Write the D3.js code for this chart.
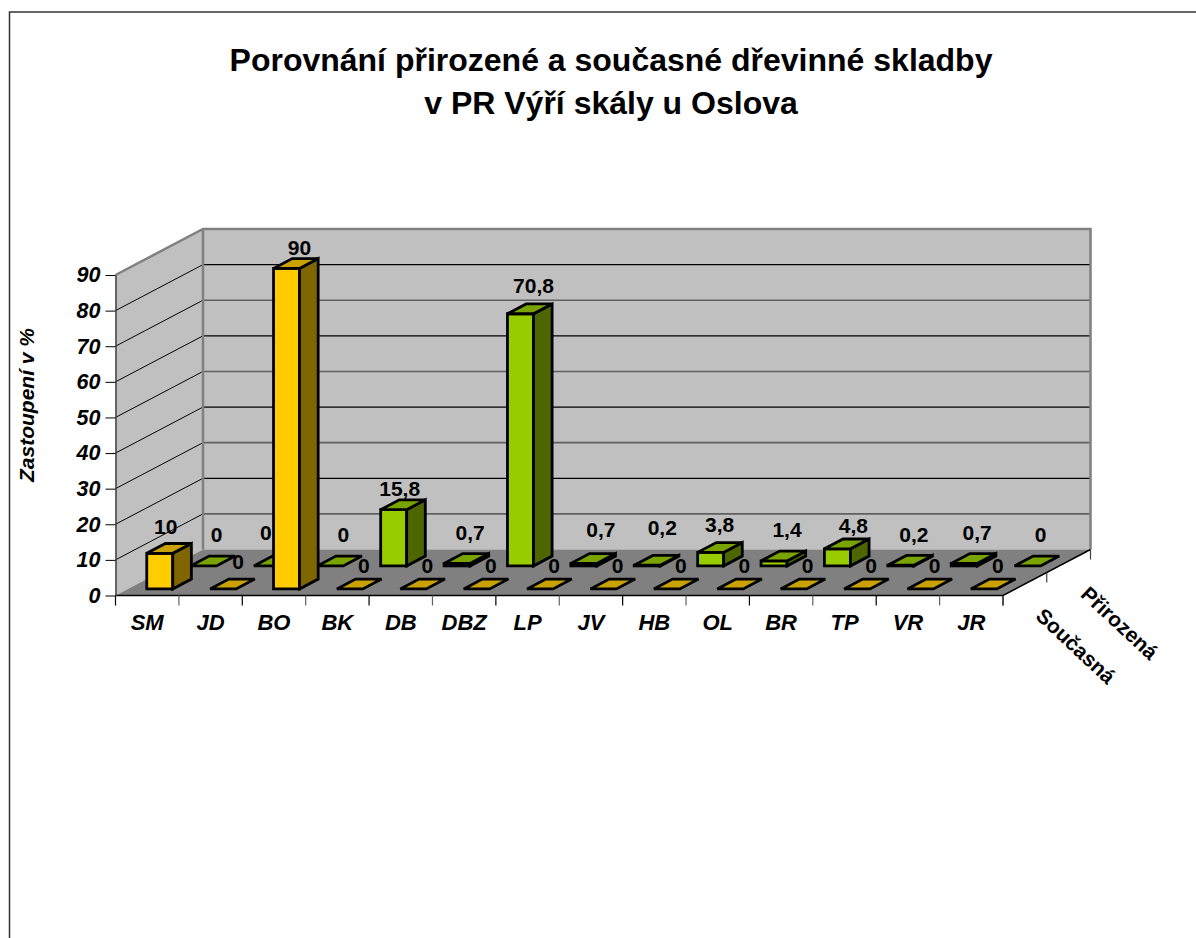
<!DOCTYPE html>
<html>
<head>
<meta charset="utf-8">
<script src="https://cdn.jsdelivr.net/npm/d3@7"></script>
<style>
    html, body { margin:0; padding:0; background:#fff; }
    svg { display:block; font-family:"Liberation Sans", Arial, sans-serif; }
</style>
</head>
<body>
<svg id="drawing_region"></svg>
<script>
const categories = ["SM","JD","BO","BK","DB","DBZ","LP","JV","HB","OL","BR","TP","VR","JR"];
const soucasna = [10,0,90,0,0,0,0,0,0,0,0,0,0,0];
const prirozena = [0,0,0,15.8,0.7,70.8,0.7,0.2,3.8,1.4,4.8,0.2,0.7,0];
const seriesNames = ["Současná","Přirozená"];
const yTicks = [0,10,20,30,40,50,60,70,80,90];
const titleLines = ["Porovnání přirozené a současné dřevinné skladby","v PR Výří skály u Oslova"];
const yTitle = "Zastoupení v %";

// label positions in the original are a bit irregular
const labelNudge = {
    "0-0": [-8,-4], "0-1": [1,-4], "0-2": [-1,2],
    "1-1": [-14,-2], "1-3": [-7,10], "1-5": [0,3], "1-6": [4,-3], "1-7": [2,-7], "1-8": [-4,3], "1-10": [3,8]
};

const colors = [
    {front:"#FFCC00", top:"#C9A100", side:"#806600"},
    {front:"#99CC00", top:"#7AA300", side:"#4D6600"}
];

const width = 1196, height = 938;
const left = 115.5, right = 1003, bottom = 595.5, top90 = 275;
const depthX = 87.5, depthY = 46;

const svg = d3.select("#drawing_region").attr("width", width).attr("height", height);
const line = d3.line();

const xscale = d3.scaleBand().domain(categories).range([left, right]).paddingInner(0.59).paddingOuter(0.295);
const yscale = d3.scaleLinear().domain([0,90]).range([bottom, top90]);
const zscale = d3.scaleBand().domain(seriesNames).range([0,1]).paddingInner(0.574).paddingOuter(0.287);

// category position, depth 0..1, value -> screen
const project = (x, z, v) => [x + z*depthX, yscale(v) - z*depthY];
const shape = pts => line(pts) + "Z";

// frame
svg.append("path")
    .attr("d", line([[9.5,height],[9.5,12],[width,12]]))
    .attr("fill","none").attr("stroke","#333").attr("stroke-width",1.5);

// title
svg.append("g").selectAll("text").data(titleLines).enter().append("text")
    .attr("x", 611).attr("y", (d,i) => 71 + i*43)
    .attr("text-anchor","middle").attr("font-weight","bold").attr("font-size","32px")
    .text(d => d);

// walls and floor
const wall = "#C0C0C0", edge = "#808080";
svg.append("path")
    .attr("d", shape([project(left,0,0), project(left,1,0), project(left,1,90), project(left,0,90)]))
    .attr("fill",wall);
svg.append("path")
    .attr("d", shape([project(left,1,0), project(right,1,0), project(right,1,90), project(left,1,90)]))
    .attr("fill",wall);
svg.append("path")
    .attr("d", shape([project(left,0,0), project(right,0,0), project(right,1,0), project(left,1,0)]))
    .attr("fill",edge);

// gridlines
const grid = yTicks.filter(d => d > 0 && d < 90);
svg.append("g").selectAll("path").data(grid).enter().append("path")
    .attr("d", d => line([project(left,0,d), project(left,1,d)]))
    .attr("stroke","#000").attr("stroke-width",1).attr("fill","none");
svg.append("g").selectAll("path").data(grid).enter().append("path")
    .attr("d", d => line([project(left,1,d), project(right,1,d)]))
    .attr("stroke", d => d % 20 === 0 ? "#000" : "#606060")
    .attr("stroke-width", d => d % 20 === 0 ? 1.2 : 1.6)
    .attr("fill","none");

// wall edges
svg.append("path")
    .attr("d", line([project(left,0,90), project(left,1,90), project(right,1,90), project(right,1,0)]))
    .attr("fill","none").attr("stroke",edge).attr("stroke-width",2.5);
svg.append("path")
    .attr("d", line([project(left,1,90), project(left,1,0)]))
    .attr("fill","none").attr("stroke",edge).attr("stroke-width",2.5);
svg.append("path")
    .attr("d", line([project(left,0,0), project(right,0,0), project(right,1,0)]))
    .attr("fill","none").attr("stroke","#000").attr("stroke-width",1.5);

// y axis
const yaxis = d3.axisLeft(yscale).tickValues(yTicks).tickSize(10).tickSizeOuter(0).tickFormat(d3.format("d"));
const yaxis_group = svg.append("g").attr("transform",`translate(${left},0)`).call(yaxis);
yaxis_group.select(".domain").attr("stroke","#404040").attr("stroke-width",1.5);
yaxis_group.selectAll("text").attr("font-family","inherit").attr("font-size","21.5px")
    .attr("font-weight","bold").attr("font-style","italic").attr("x",-15).attr("fill","#000");

// x axis
const xaxis = d3.axisBottom(xscale).tickSize(0).tickPadding(19);
const xaxis_group = svg.append("g").attr("transform",`translate(0,${bottom})`).call(xaxis);
xaxis_group.select(".domain").remove();
xaxis_group.selectAll("text").attr("font-family","inherit").attr("font-size","22px")
    .attr("font-weight","bold").attr("font-style","italic").attr("fill","#000");
svg.append("g").selectAll("line").data(d3.range(categories.length + 1)).enter().append("line")
    .attr("x1", i => left + i*xscale.step()).attr("x2", i => left + i*xscale.step())
    .attr("y1", bottom).attr("y2", bottom + 10)
    .attr("stroke", (d,i) => i % 2 ? "#606060" : "#000").attr("stroke-width",1.2);

// depth axis
svg.append("g").selectAll("line").data([0,0.5,1]).enter().append("line")
    .attr("x1", d => project(right,d,0)[0]).attr("x2", d => project(right,d,0)[0])
    .attr("y1", d => project(right,d,0)[1]).attr("y2", d => project(right,d,0)[1] + 10)
    .attr("stroke","#404040").attr("stroke-width",1.2);
svg.append("g").selectAll("text").data(seriesNames).enter().append("text")
    .attr("transform", d => {
        const p = project(right, zscale(d) + zscale.bandwidth()/2, 0);
        return `translate(${p[0]+51},${p[1]+62}) rotate(43)`;
    })
    .attr("text-anchor","middle").attr("dy",".35em")
    .attr("font-size","21px").attr("font-weight","bold")
    .text(d => d);

// y title
svg.append("text")
    .attr("transform","translate(27,405) rotate(-90)")
    .attr("text-anchor","middle").attr("dy",".35em")
    .attr("font-size","21px").attr("font-weight","bold").attr("font-style","italic")
    .text(yTitle);

// bars, back row first
const rows = [
    {index:1, name:seriesNames[1], values:prirozena},
    {index:0, name:seriesNames[0], values:soucasna}
];
const fmt = v => String(v).replace(".", ",");

rows.forEach(row => {
    const c = colors[row.index];
    const z0 = zscale(row.name), z1 = z0 + zscale.bandwidth();
    const cells = categories.map((cat,i) => ({cat, i, v:row.values[i]}));
    const bar = svg.append("g").selectAll("g").data(cells).enter().append("g")
        .attr("stroke","#000").attr("stroke-width",2.8).attr("stroke-linejoin","miter");

    const xa = d => xscale(d.cat), xb = d => xscale(d.cat) + xscale.bandwidth();

    bar.filter(d => d.v > 0).append("path")
        .attr("fill",c.front)
        .attr("d", d => shape([project(xa(d),z0,0), project(xb(d),z0,0), project(xb(d),z0,d.v), project(xa(d),z0,d.v)]));
    bar.filter(d => d.v > 0).append("path")
        .attr("fill",c.side)
        .attr("d", d => shape([project(xb(d),z0,0), project(xb(d),z1,0), project(xb(d),z1,d.v), project(xb(d),z0,d.v)]));
    bar.append("path")
        .attr("fill",c.top)
        .attr("d", d => shape([project(xa(d),z0,d.v), project(xb(d),z0,d.v), project(xb(d),z1,d.v), project(xa(d),z1,d.v)]));

    svg.append("g").selectAll("text").data(cells).enter().append("text")
        .attr("x", d => {
            const n = labelNudge[row.index + "-" + d.i] || [0,0];
            return project(xa(d),z0,d.v)[0] + (row.index ? 26 : 27) + n[0];
        })
        .attr("y", d => {
            const n = labelNudge[row.index + "-" + d.i] || [0,0];
            return project(xa(d),z0,d.v)[1] - (row.index ? 31 : 23) + n[1];
        })
        .attr("text-anchor","middle").attr("dy",".35em")
        .attr("font-size","21px").attr("font-weight","bold")
        .text(d => fmt(d.v));
});
</script>
</body>
</html>
